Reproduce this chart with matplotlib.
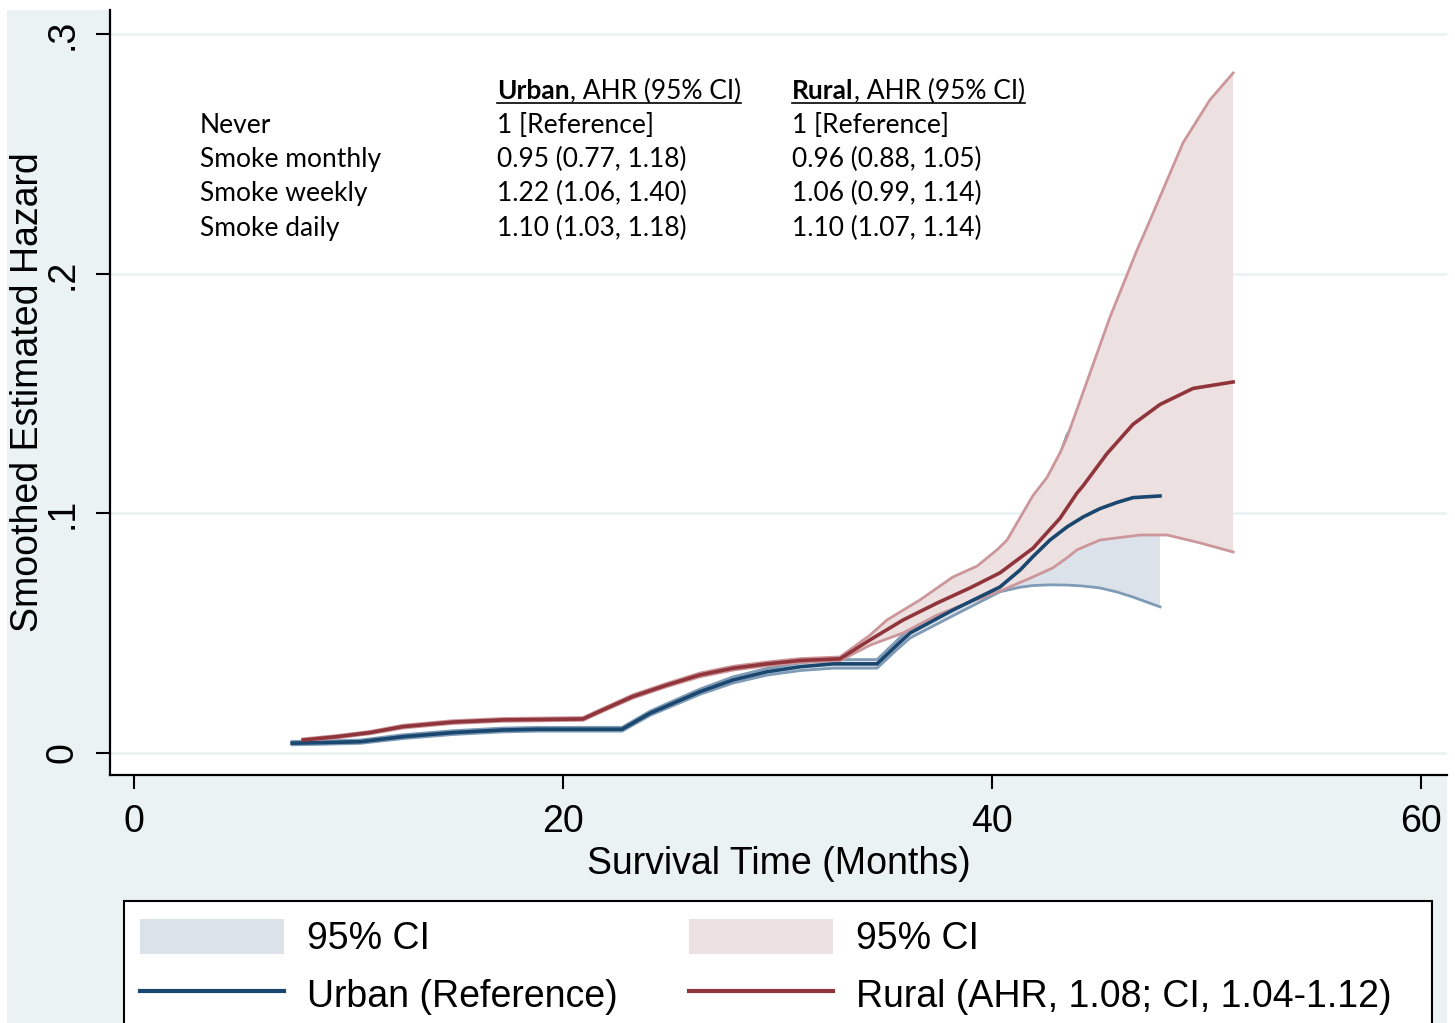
import matplotlib
matplotlib.use("Agg")
import matplotlib.pyplot as plt
from matplotlib.patches import Rectangle, Patch
from matplotlib.lines import Line2D
from matplotlib.transforms import IdentityTransform, offset_copy

# ---------------------------------------------------------------
# data
# ---------------------------------------------------------------
x_urban = [7.37, 8.67, 10.54, 12.54, 14.87, 17.20, 18.79, 22.75, 24.06, 26.39,
           27.93, 29.51, 31.05, 32.59, 34.64, 35.57, 36.18, 38.18, 40.37, 41.31,
           41.91, 42.70, 43.50, 44.24, 45.03, 45.83, 46.57, 47.83]
urban = [0.0041, 0.0043, 0.0047, 0.0068, 0.0085, 0.0096, 0.0099, 0.0099, 0.0166, 0.0256,
         0.0305, 0.0339, 0.0360, 0.0372, 0.0372, 0.0451, 0.0501, 0.0597, 0.0693, 0.0764,
         0.0820, 0.0889, 0.0944, 0.0985, 0.1020, 0.1046, 0.1066, 0.1073]
urban_lo = [0.0034, 0.0036, 0.0040, 0.0060, 0.0077, 0.0088, 0.0091, 0.0091, 0.0157, 0.0245,
            0.0292, 0.0325, 0.0344, 0.0354, 0.0354, 0.0432, 0.0480, 0.0573, 0.0673, 0.0692,
            0.0699, 0.0702, 0.0701, 0.0697, 0.0689, 0.0672, 0.0651, 0.0610]
urban_hi = [0.0048, 0.0050, 0.0054, 0.0076, 0.0093, 0.0104, 0.0107, 0.0107, 0.0175, 0.0267,
            0.0318, 0.0353, 0.0376, 0.0390, 0.0390, 0.0470, 0.0522, 0.0621, 0.0714, 0.0845,
            0.0960, 0.1130, 0.1330, 0.1420, 0.1520, 0.1640, 0.1750, 0.1890]

x_rural = [7.88, 9.46, 11.00, 12.54, 14.87, 17.20, 20.93, 21.86, 23.26, 24.85,
           26.39, 27.93, 29.51, 31.05, 32.91, 34.31, 35.85, 37.44, 38.97, 40.37,
           41.91, 43.17, 43.96, 44.24, 45.36, 46.57, 47.83, 49.37, 51.24]
rural = [0.0054, 0.0068, 0.0085, 0.0110, 0.0129, 0.0138, 0.0142, 0.0180, 0.0236, 0.0284,
         0.0326, 0.0354, 0.0372, 0.0386, 0.0393, 0.0472, 0.0555, 0.0626, 0.0689, 0.0752,
         0.0855, 0.0980, 0.1085, 0.1115, 0.1250, 0.1372, 0.1455, 0.1522, 0.1549]

x_rural_lo = [7.88, 9.46, 11.00, 12.54, 14.87, 17.20, 20.93, 21.86, 23.26, 24.85,
              26.39, 27.93, 29.51, 31.05, 32.91, 34.31, 35.85, 37.44, 38.97, 40.51,
              41.91, 42.84, 43.50, 43.96, 45.03, 46.90, 48.16, 49.70, 51.24]
rural_lo = [0.0049, 0.0063, 0.0080, 0.0104, 0.0123, 0.0132, 0.0136, 0.0174, 0.0229, 0.0277,
            0.0318, 0.0346, 0.0364, 0.0378, 0.0385, 0.0450, 0.0501, 0.0576, 0.0630, 0.0681,
            0.0735, 0.0773, 0.0815, 0.0848, 0.0889, 0.0910, 0.0910, 0.0877, 0.0839]
x_rural_hi = [7.88, 9.46, 11.00, 12.54, 14.87, 17.20, 20.93, 21.86, 23.26, 24.85,
              26.39, 27.93, 29.51, 31.05, 32.91, 34.31, 35.10, 36.64, 38.18, 39.30,
              40.23, 40.70, 41.91, 42.56, 43.17, 43.50, 44.57, 45.50, 46.76, 47.23,
              48.90, 50.16, 51.24]
rural_hi = [0.0059, 0.0073, 0.0090, 0.0116, 0.0135, 0.0144, 0.0148, 0.0186, 0.0243, 0.0291,
            0.0334, 0.0362, 0.0380, 0.0394, 0.0401, 0.0492, 0.0555, 0.0639, 0.0735, 0.0780,
            0.0848, 0.0889, 0.1075, 0.1150, 0.1253, 0.1319, 0.1587, 0.1820, 0.2100, 0.2196,
            0.2547, 0.2727, 0.2839]

x_ticks = [0, 20, 40, 60]
y_ticks = [0, 0.1, 0.2, 0.3]
y_ticklabels = ["0", ".1", ".2", ".3"]

table_rows = ["Never", "Smoke monthly", "Smoke weekly", "Smoke daily"]
urban_ahr = ["1 [Reference]", "0.95 (0.77, 1.18)", "1.22 (1.06, 1.40)", "1.10 (1.03, 1.18)"]
rural_ahr = ["1 [Reference]", "0.96 (0.88, 1.05)", "1.06 (0.99, 1.14)", "1.10 (1.07, 1.14)"]

# ---------------------------------------------------------------
# colours / fonts
# ---------------------------------------------------------------
BG = "#eaf2f3"
URBAN = "#1a476f"
URBAN_EDGE = "#7f9bb5"
URBAN_FILL = "#dce2e9"
RURAL = "#90353b"
RURAL_EDGE = "#cc979b"
RURAL_FILL = "#ede0e1"

plt.rcParams["font.family"] = ["Liberation Sans", "DejaVu Sans"]
TABLE_FONT = ["Lato", "DejaVu Sans"]
FS = 27
LFS = 27
TFS = 19

W, H = 1455, 1023
fig = plt.figure(figsize=(W / 100, H / 100), dpi=100, facecolor="white")
fig.add_artist(Rectangle((7 / W, 0), 1440 / W, 1013 / H, transform=fig.transFigure,
                         facecolor=BG, edgecolor="none", zorder=-5))

ax = fig.add_axes([110 / W, (H - 775) / H, 1337 / W, 765 / H])
ax.set_facecolor("white")


def band(xl, lo, xh, hi, fill, edge, z):
    ax.fill(list(xl) + list(xh)[::-1], list(lo) + list(hi)[::-1],
            facecolor=fill, edgecolor="none", zorder=z)
    ax.plot(xl, lo, color=edge, lw=2, zorder=z + 0.1)
    ax.plot(xh, hi, color=edge, lw=2, zorder=z + 0.1)


band(x_urban, urban_lo, x_urban, urban_hi, URBAN_FILL, URBAN_EDGE, 1)
band(x_rural_lo, rural_lo, x_rural_hi, rural_hi, RURAL_FILL, RURAL_EDGE, 2)

# smoothed hazards
ax.plot(x_urban, urban, color=URBAN, lw=2.6, zorder=3)
ax.plot(x_rural, rural, color=RURAL, lw=2.6, zorder=3)

ax.set_xlim(-1.12, 61.21)
ax.set_ylim(-0.0092, 0.3102)
ax.set_xticks(x_ticks)
ax.set_yticks(y_ticks)
ax.set_yticklabels(y_ticklabels, rotation=90, va="center")
ax.tick_params(axis="both", labelsize=FS, length=10, width=1.5, direction="out")
ax.tick_params(axis="x", pad=11)
ax.tick_params(axis="y", pad=11)
ax.grid(axis="y", color=BG, lw=2)
ax.set_axisbelow(True)
for s in ["top", "right"]:
    ax.spines[s].set_visible(False)
for s in ["left", "bottom"]:
    ax.spines[s].set_linewidth(1.6)

ax.set_xlabel("Survival Time (Months)", fontsize=FS, labelpad=4)
ax.set_ylabel("Smoothed Estimated Hazard", fontsize=FS)
ax.yaxis.set_label_coords(-0.048, 0.5)

# -------------------------------------------------------
# AHR table
# -------------------------------------------------------
row_y = [0.2589, 0.2447, 0.2303, 0.2159]
head_y = 0.2732
col_x = [3.08, 16.92, 30.68]

for i, name in enumerate(table_rows):
    ax.text(col_x[0], row_y[i], name, fontsize=TFS, family=TABLE_FONT, va="baseline")
    ax.text(col_x[1], row_y[i], urban_ahr[i], fontsize=TFS, family=TABLE_FONT, va="baseline")
    ax.text(col_x[2], row_y[i], rural_ahr[i], fontsize=TFS, family=TABLE_FONT, va="baseline")

heads = []
for x0, grp in [(col_x[1], "Urban"), (col_x[2], "Rural")]:
    t1 = ax.text(x0, head_y, grp, fontsize=TFS, family=TABLE_FONT, weight="bold", va="baseline")
    heads.append(t1)

fig.canvas.draw()
r = fig.canvas.get_renderer()
for t1 in heads:
    bb = t1.get_window_extent(r)
    tr = offset_copy(t1.get_transform(), fig=fig, x=bb.width, y=0, units="dots")
    t2 = ax.text(t1.get_position()[0], head_y, ", AHR (95% CI)", fontsize=TFS,
                 family=TABLE_FONT, va="baseline", transform=tr)
    fig.canvas.draw()
    bb2 = t2.get_window_extent(r)
    base = ax.transData.transform((0, head_y))[1]
    uy = base - 4
    fig.add_artist(Line2D([bb.x0, bb2.x1], [uy, uy], color="black", lw=1.2,
                          transform=IdentityTransform()))

# -------------------------------------------------------
# legend (box drawn separately, runs off the bottom edge)
# -------------------------------------------------------
fig.add_artist(Rectangle((124 / W, -0.05), (1432 - 124) / W, (1023 - 901) / H + 0.05,
                         transform=fig.transFigure, facecolor="white",
                         edgecolor="black", lw=1.5, zorder=-4))
handles = [Patch(facecolor=URBAN_FILL, edgecolor="none"),
           Line2D([], [], color=URBAN, lw=3),
           Patch(facecolor=RURAL_FILL, edgecolor="none"),
           Line2D([], [], color=RURAL, lw=3)]
labels = ["95% CI", "Urban (Reference)", "95% CI", "Rural (AHR, 1.08; CI, 1.04-1.12)"]
leg = fig.legend(handles, labels, ncol=2, loc="upper left",
                 bbox_to_anchor=(140 / W, 1 - 919 / H), fontsize=LFS,
                 handlelength=3.85, handleheight=1.07, handletextpad=0.6,
                 columnspacing=1.9, borderpad=0, labelspacing=0.5,
                 borderaxespad=0, frameon=False)

fig.savefig("out.png", dpi=100, facecolor="white")
